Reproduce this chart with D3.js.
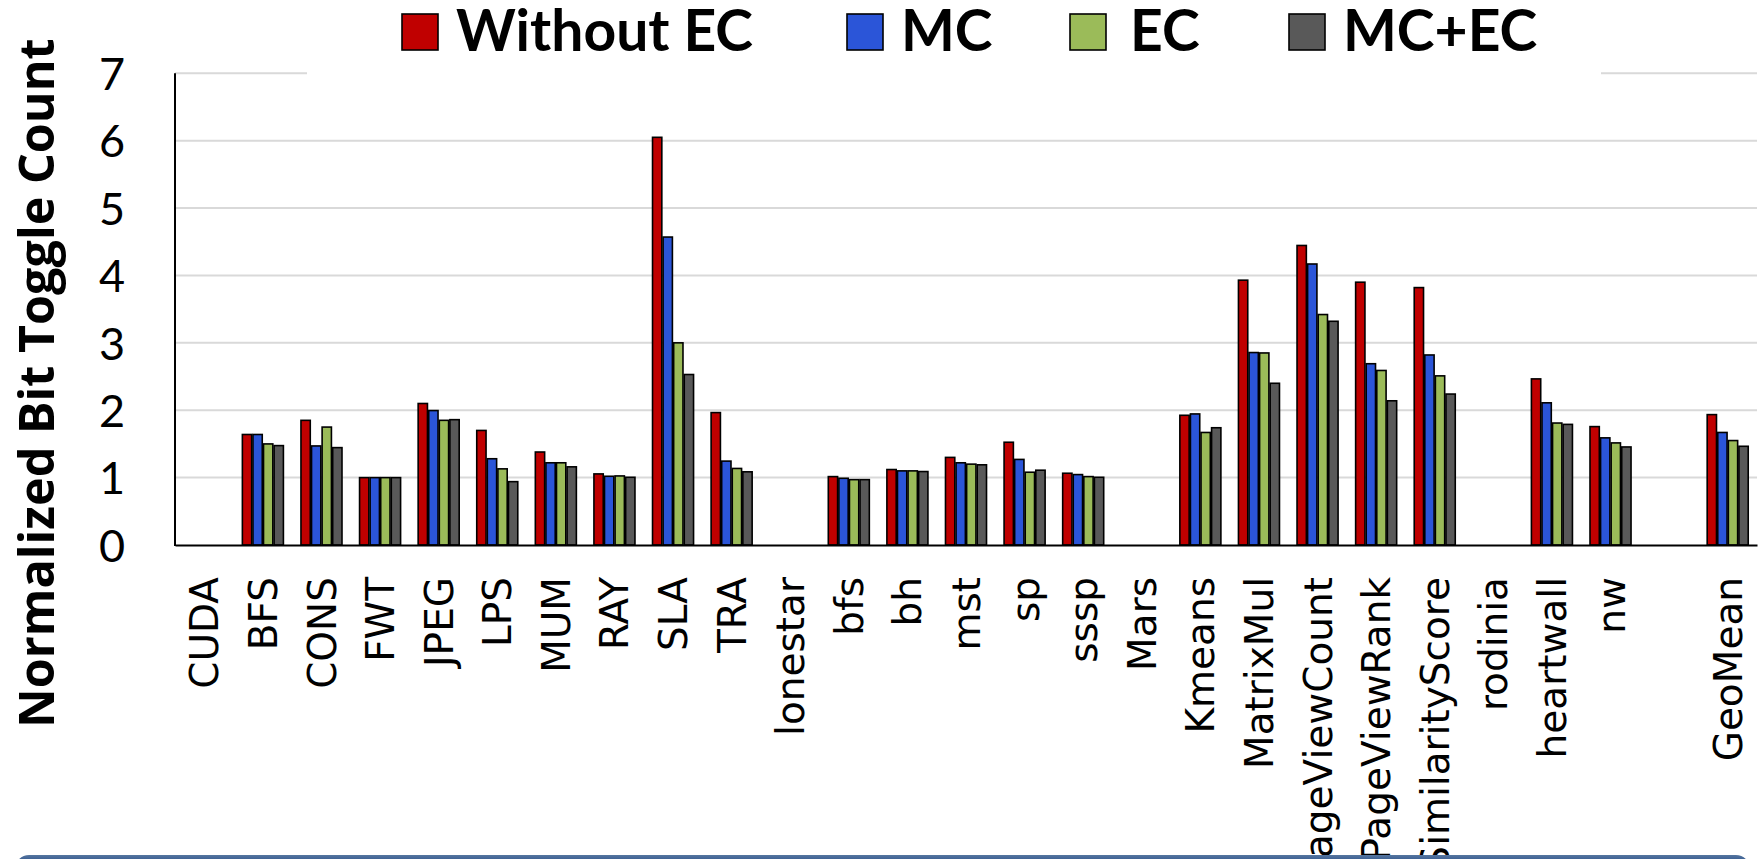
<!DOCTYPE html>
<html>
<head>
<meta charset="utf-8">
<script src="https://cdn.jsdelivr.net/npm/d3@7"></script>
<style>
  html, body { margin: 0; padding: 0; background: #ffffff; overflow: hidden; }
  svg { display: block; }
</style>
</head>
<body>
<svg id="chart" width="1762" height="859"></svg>
<script>
// Benchmarks along the x axis (the empty string leaves a gap before GeoMean)
const categories = ["CUDA","BFS","CONS","FWT","JPEG","LPS","MUM","RAY","SLA","TRA",
  "lonestar","bfs","bh","mst","sp","sssp","Mars","Kmeans","MatrixMul","PageViewCount",
  "PageViewRank","SimilarityScore","rodinia","heartwall","nw","","GeoMean"];

const seriesNames = ["Without EC", "MC", "EC", "MC+EC"];
const seriesColors = ["#c00000", "#2b55d8", "#9bbb59", "#595959"];

// Normalized bit toggle count per benchmark (null = suite heading, no bar)
const withoutEC = [null,1.64,1.85,1.00,2.10,1.70,1.38,1.055,6.05,1.965,
  null,1.015,1.12,1.30,1.525,1.065,null,1.925,3.93,4.445,3.90,3.82,null,2.465,1.757,null,1.935];
const mc = [null,1.64,1.47,1.00,1.995,1.28,1.22,1.02,4.57,1.245,
  null,0.99,1.10,1.22,1.27,1.045,null,1.945,2.856,4.17,2.69,2.82,null,2.11,1.59,null,1.67];
const ec = [null,1.50,1.75,1.00,1.85,1.13,1.22,1.025,3.00,1.136,
  null,0.97,1.10,1.20,1.08,1.015,null,1.67,2.85,3.42,2.59,2.51,null,1.81,1.515,null,1.55];
const mcec = [null,1.475,1.445,1.00,1.86,0.94,1.16,1.005,2.53,1.086,
  null,0.97,1.09,1.19,1.11,1.005,null,1.74,2.40,3.32,2.14,2.24,null,1.79,1.455,null,1.465];

const yTicks = [0,1,2,3,4,5,6,7];

const seriesValues = [withoutEC, mc, ec, mcec];

const svg = d3.select("#chart");

const plot = { left: 175, right: 1757, top: 73.3, bottom: 545 };

const x0 = d3.scaleBand()
  .domain(categories.map((c, i) => i))
  .range([plot.left, plot.right])
  .padding(0);

const x1 = d3.scaleBand()
  .domain(seriesNames)
  .range([0, x0.bandwidth()])
  .paddingInner(0.12)
  .paddingOuter(0.83);

const y = d3.scaleLinear().domain([0, 7]).range([plot.bottom, plot.top]);

// Horizontal gridlines
svg.append("g")
  .selectAll("line")
  .data(yTicks.filter(t => t > 0))
  .join("line")
  .attr("x1", plot.left).attr("x2", plot.right)
  .attr("y1", d => y(d)).attr("y2", d => y(d))
  .attr("stroke", "#d9d9d9").attr("stroke-width", 2);

// Y axis tick labels
const yAxis = d3.axisLeft(y).tickValues(yTicks).tickSize(0).tickPadding(50).tickFormat(d3.format("d"));
const yg = svg.append("g").attr("transform", `translate(${plot.left},0)`).call(yAxis);
yg.select(".domain").remove();
yg.selectAll("text")
  .attr("font-family", "Lato, 'Open Sans', sans-serif")
  .attr("font-size", 45)
  .attr("fill", "#000")
  .attr("dy", "0.36em");

// Bars
const groups = svg.append("g")
  .selectAll("g")
  .data(categories.map((c, i) => i))
  .join("g")
  .attr("transform", i => `translate(${x0(i)},0)`);

groups.selectAll("rect")
  .data(i => seriesNames.map((s, k) => ({ s, k, v: seriesValues[k][i] })).filter(d => d.v != null))
  .join("rect")
  .attr("x", d => x1(d.s))
  .attr("width", x1.bandwidth())
  .attr("y", d => y(d.v))
  .attr("height", d => y(0) - y(d.v))
  .attr("fill", d => seriesColors[d.k])
  .attr("stroke", "#000")
  .attr("stroke-width", 1.6);

// Axis lines
svg.append("line")
  .attr("x1", plot.left).attr("x2", plot.left)
  .attr("y1", plot.top).attr("y2", plot.bottom + 1)
  .attr("stroke", "#000").attr("stroke-width", 2);

const xAxis = d3.axisBottom(x0).tickSize(0).tickPadding(0).tickFormat(i => categories[i]);
const xg = svg.append("g").attr("transform", `translate(0,${plot.bottom})`).call(xAxis);
xg.select(".domain").attr("stroke", "#000").attr("stroke-width", 2);
xg.selectAll("text")
  .attr("font-family", "'DejaVu Sans', Verdana, sans-serif")
  .attr("font-size", 39)
  .attr("fill", "#000")
  .attr("text-anchor", "end")
  .attr("transform", "rotate(-90)")
  .attr("x", -32)
  .attr("y", 0)
  .attr("dy", "0.36em");

// Y axis title
svg.append("text")
  .attr("transform", `translate(54,383) rotate(-90)`)
  .attr("text-anchor", "middle")
  .attr("font-family", "'Open Sans', 'DejaVu Sans', sans-serif")
  .attr("font-weight", "bold")
  .attr("font-size", 48.5)
  .attr("fill", "#000")
  .text("Normalized Bit Toggle Count");

// Legend on a white panel above the plot
svg.append("rect")
  .attr("x", 307).attr("y", 0).attr("width", 1601 - 307).attr("height", 86)
  .attr("fill", "#ffffff");

const legendX = [402, 847, 1070, 1289];
const legend = svg.append("g")
  .selectAll("g")
  .data(seriesNames)
  .join("g")
  .attr("transform", (d, k) => `translate(${legendX[k]},0)`);

legend.append("rect")
  .attr("x", 0).attr("y", 14).attr("width", 36).attr("height", 36)
  .attr("fill", (d, k) => seriesColors[k])
  .attr("stroke", "#000").attr("stroke-width", 1.6);

legend.append("text")
  .attr("x", (d, k) => k === 2 ? 60 : 54).attr("y", 50.5)
  .attr("font-family", "Lato, 'Open Sans', sans-serif")
  .attr("font-weight", "bold")
  .attr("font-size", 57)
  .attr("fill", "#000")
  .text(d => d);

// Slide frame strip along the bottom edge
const grad = svg.append("defs").append("linearGradient")
  .attr("id", "strip").attr("x1", 0).attr("x2", 0).attr("y1", 0).attr("y2", 1);
grad.append("stop").attr("offset", "0%").attr("stop-color", "#56769f");
grad.append("stop").attr("offset", "12%").attr("stop-color", "#3b5f93");
grad.append("stop").attr("offset", "100%").attr("stop-color", "#345a8c");
svg.append("rect")
  .attr("x", 15).attr("y", 855).attr("width", 1735).attr("height", 40)
  .attr("rx", 14)
  .attr("fill", "url(#strip)");
</script>
</body>
</html>
